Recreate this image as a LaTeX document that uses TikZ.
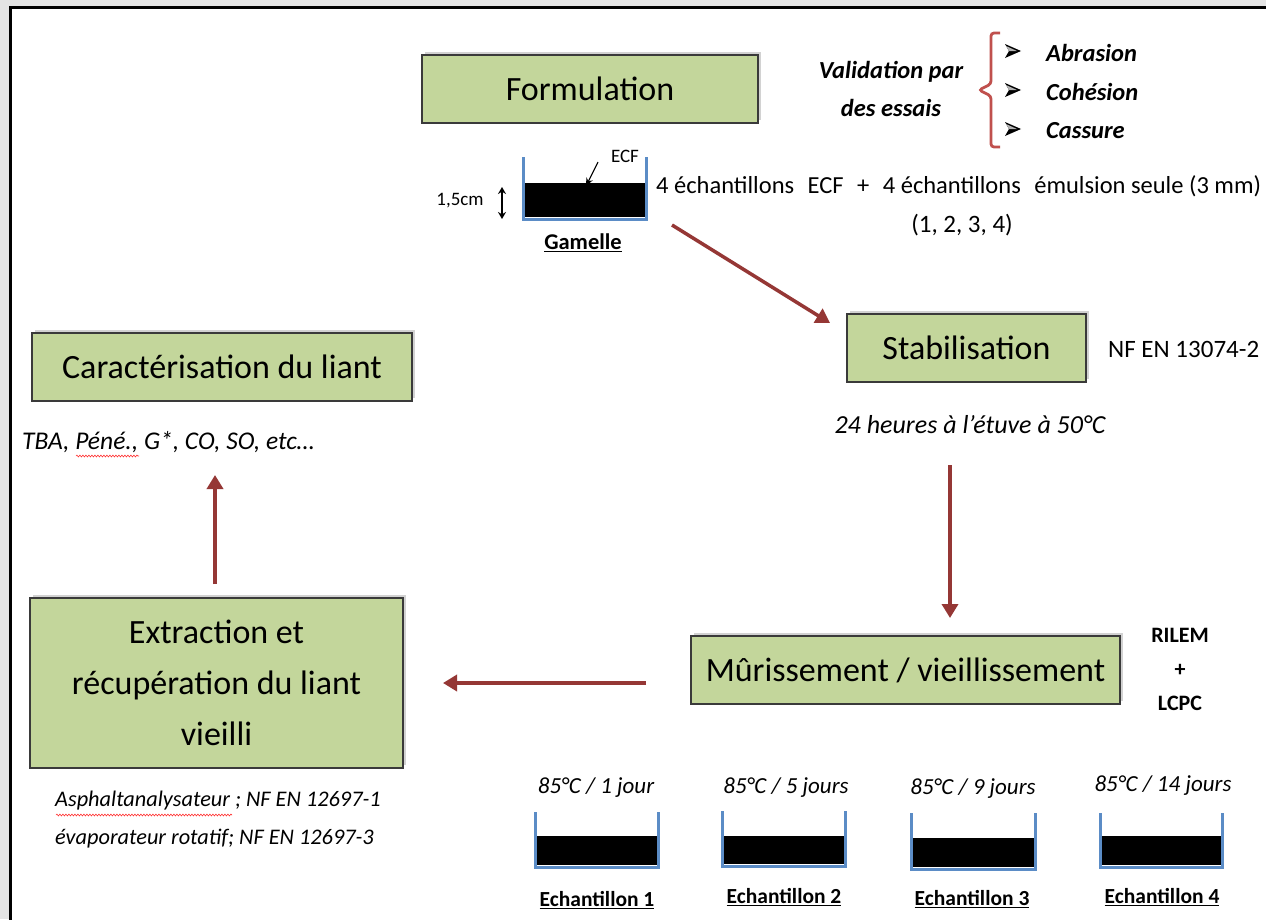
\documentclass[tikz,border=0pt]{standalone}
\usepackage{fontspec}
\setmainfont{Carlito}
\usetikzlibrary{arrows.meta,shadows,decorations.pathmorphing}
\definecolor{boxgreen}{HTML}{C3D69B}
\definecolor{boxline}{HTML}{3A3A3A}
\definecolor{arrred}{HTML}{953735}
\definecolor{wallblue}{HTML}{5B8CC6}
\definecolor{bracered}{HTML}{C0504D}
\definecolor{bggray}{HTML}{E4E4E4}
\tikzset{
  stepbox/.style={draw=boxline, line width=1.2pt, fill=boxgreen, drop shadow={shadow xshift=3pt, shadow yshift=3pt, opacity=0.35}, inner sep=0pt, align=center, font=\fontsize{34}{40}\selectfont},
  flow/.style={draw=arrred, line width=3.5pt, -{Triangle[length=14pt,width=16pt]}},
  wall/.style={draw=wallblue, line width=3pt},
  lbl/.style={inner sep=0pt, font=\fontsize{25}{28}\selectfont},
  ilbl/.style={inner sep=0pt, font=\fontsize{23}{26}\selectfont\itshape},
  blbl/.style={inner sep=0pt, font=\fontsize{21.5}{24}\selectfont\bfseries},
  bilbl/.style={inner sep=0pt, font=\fontsize{24.5}{28}\selectfont\bfseries\itshape},
  small/.style={inner sep=0pt, font=\fontsize{19}{22}\selectfont},
  squig/.style={draw=red!80, line width=0.6pt, decorate, decoration={snake, amplitude=0.9pt, segment length=3pt}},
}
\newcommand{\pan}[5]{% x1 x2 ytop yfill ybot
  \fill[black] (#1+1,#4) rectangle (#2-1,#5-2);
  \draw[wall] (#1,#3) -- (#1,#5) -- (#2,#5) -- (#2,#3);
}
\newcommand{\bullarrow}[2]{% x y (left of glyph, centre)
  \fill[black] (#1,#2-7) -- (#1+16,#2) -- (#1,#2+7) -- (#1+4,#2) -- cycle;
  \fill[gray!60] (#1+1,#2-5) -- (#1+12,#2) -- (#1+4,#2) -- cycle;
}
\newcommand{\gp}{\hspace{13.5pt}}
\begin{document}
\begin{tikzpicture}[x=1pt,y=-1pt]
\useasboundingbox (0,0) rectangle (1266,919);
\fill[bggray] (0,0) rectangle (1266,919);
\fill[white] (10,7) rectangle (1268,921);
\draw[black, line width=3pt] (10,930) -- (10,7) -- (1280,7);

% boxes
\node[stepbox, minimum width=336pt, minimum height=68pt] (form) at (590,89) {Formulation};
\node[stepbox, minimum width=239pt, minimum height=68pt] (stab) at (966.5,348) {Stabilisation};
\node[stepbox, minimum width=380pt, minimum height=68pt] (cara) at (222,367) {Caractérisation du liant};
\node[stepbox, minimum width=429pt, minimum height=68pt] (muri) at (905.5,670) {Mûrissement / vieillissement};
\node[stepbox, minimum width=373pt, minimum height=170pt, font=\fontsize{34}{51}\selectfont] (extr) at (216.5,683) {Extraction et\\récupération du liant\\vieilli};

% validation
\node[bilbl, align=center, font=\fontsize{24.5}{38}\selectfont\bfseries\itshape] (valid) at (891,89) {Validation par\\des essais};
\draw[bracered, line width=2.8pt, rounded corners=3pt] (1000,33) -- (991,33) -- (991,84) -- (979,90) -- (991,96) -- (991,147) -- (1000,147);
\bullarrow{1005}{51}
\bullarrow{1005}{90}
\bullarrow{1005}{129}
\node[bilbl, anchor=west] (abr) at (1046,53) {Abrasion};
\node[bilbl, anchor=west] (coh) at (1046,92) {Cohésion};
\node[bilbl, anchor=west] (cas) at (1046,131) {Cassure};

% gamelle
\pan{523}{646}{157}{183}{219}
\node[small] (ecf) at (625,156) {ECF};
\draw[-{Stealth[length=8pt,width=7pt]}, line width=1.1pt] (598,162) -- (586,186);
\node[small] (cm) at (460,201) {1,5cm};
\draw[{Stealth[length=7pt,width=8pt]}-{Stealth[length=7pt,width=8pt]}, line width=1.3pt] (502,187) -- (502,219);
\node[blbl, font=\fontsize{22.5}{24}\selectfont\bfseries] (gam) at (583,243) {\underline{Gamelle}};
\node[lbl, anchor=west, font=\fontsize{24.5}{28}\selectfont] (ech) at (656,186) {4 échantillons\gp ECF\gp +\gp 4 échantillons\gp émulsion seule (3 mm)};
\node[lbl] (num) at (962,225) {(1, 2, 3, 4)};

\node[lbl, anchor=west] (nf) at (1108,349) {NF EN\ 13074-2};
\node[ilbl, font=\fontsize{26}{30}\selectfont\itshape] (etuve) at (970,425) {24 heures à l’étuve à 50°C};
\node[ilbl, anchor=west, font=\fontsize{25.5}{30}\selectfont\itshape] (tba) at (22,442) {TBA, Péné., G*, CO, SO, etc…};
\draw[squig] (76,456) -- (139,456);

\node[blbl, align=center, font=\fontsize{22}{34}\selectfont\bfseries] (rilem) at (1180,669) {RILEM\\+\\LCPC};

\node[ilbl, anchor=west, font=\fontsize{22.3}{26}\selectfont\itshape] (asph) at (55,801) {Asphaltanalysateur ; NF EN 12697-1};
\draw[squig] (56,815) -- (232,815);
\node[ilbl, anchor=west, font=\fontsize{22.3}{26}\selectfont\itshape] (evap) at (55,839) {évaporateur rotatif; NF EN 12697-3};

% arrows
\coordinate (a1s) at (672,225); \coordinate (a1e) at (830,323);
\coordinate (a2s) at (950,465); \coordinate (a2e) at (950,618);
\coordinate (a3s) at (646,683); \coordinate (a3e) at (443,683);
\coordinate (a4s) at (215,584); \coordinate (a4e) at (215,475);
\draw[flow] (a1s) -- (a1e);
\draw[flow] (a2s) -- (a2e);
\draw[flow] (a3s) -- (a3e);
\draw[flow] (a4s) -- (a4e);

% samples
\node[ilbl] (t1) at (596,788) {85°C / 1 jour};
\node[ilbl] (t2) at (786,788) {85°C / 5 jours};
\node[ilbl] (t3) at (973,789) {85°C / 9 jours};
\node[ilbl] (t4) at (1163,786) {85°C / 14 jours};
\pan{535}{658}{812}{836}{867}
\pan{722}{845}{811}{836}{866}
\pan{911}{1035}{813}{838}{869}
\pan{1100}{1222}{813}{836}{867}
\node[blbl] (e1) at (597,900) {\underline{Echantillon 1}};
\node[blbl] (e2) at (784,897) {\underline{Echantillon 2}};
\node[blbl] (e3) at (972,899) {\underline{Echantillon 3}};
\node[blbl] (e4) at (1162,897) {\underline{Echantillon 4}};
\end{tikzpicture}
\end{document}
